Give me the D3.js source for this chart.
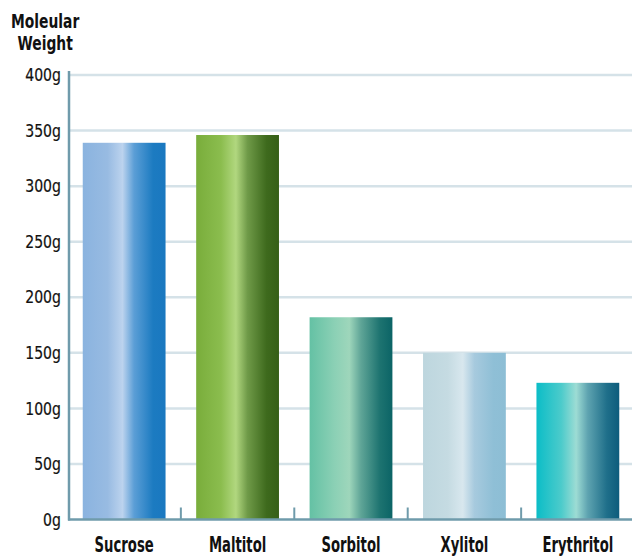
<!DOCTYPE html>
<html><head><meta charset="utf-8">
<script src="https://cdn.jsdelivr.net/npm/d3@7"></script>
<style>
body{margin:0;background:#fff;}
text{font-family:"Liberation Sans Narrow","DejaVu Sans Condensed","DejaVu Sans",sans-serif;}
</style></head>
<body><svg id="c" width="632" height="557"></svg>
<script>
const categories = ["Sucrose","Maltitol","Sorbitol","Xylitol","Erythritol"];
const values = [339, 346, 182, 150, 123];
const tickValues = [0,50,100,150,200,250,300,350,400];
const tickLabels = ["0g","50g","100g","150g","200g","250g","300g","350g","400g"];
const gradients = [
  ["#8ab3df","#98bbe2","#bcd3ee","#5b9ed6","#1c7bc1","#1a78c0"],
  ["#79ad3b","#8bbd4e","#b1d77f","#6f9a48","#3e6a1d","#365f17"],
  ["#64c1a4","#8bd0b5","#9ed6bb","#5fa597","#1d7370","#0b6466"],
  ["#bdd6de","#c5dbe2","#d8e7ee","#a7cade","#8fbfd6","#8dbed5"],
  ["#0bbdc7","#4ccbcb","#9ddcd4","#5ea3b0","#1f6f8a","#0e5c7c"]
];
const stops = [0, 0.3, 0.48, 0.62, 0.85, 1];

const svg = d3.select("#c");
const x0 = 68, yTop = 75, yBase = 519.5, step = 113.2;
const x = d3.scaleBand().domain(categories).range([x0, x0 + step*categories.length]).paddingInner(0.27).paddingOuter(0.13);
const y = d3.scaleLinear().domain([0,400]).range([yBase, yTop]);

const defs = svg.append("defs");
gradients.forEach((g,i)=>{
  const lg = defs.append("linearGradient").attr("id","g"+i).attr("x1","0").attr("x2","1").attr("y1","0").attr("y2","0");
  g.forEach((c,j)=>lg.append("stop").attr("offset",stops[j]).attr("stop-color",c));
});

// gridlines
svg.append("g").selectAll("line").data(tickValues.filter(d=>d>0)).join("line")
  .attr("x1",x0+2).attr("x2",632).attr("y1",d=>y(d)).attr("y2",d=>y(d))
  .attr("stroke","#d5e2e8").attr("stroke-width",2.5);

// y labels (condensed via horizontal scale)
svg.append("g").selectAll("text").data(tickValues).join("text")
  .attr("transform",d=>`translate(61,${y(d)}) scale(0.92,1)`)
  .attr("dy","0.36em").attr("text-anchor","end")
  .attr("font-size",17).attr("fill","#111").attr("stroke","#111").attr("stroke-width",0.2)
  .text((d,i)=>tickLabels[i]);

// bars
svg.append("g").selectAll("rect").data(values).join("rect")
  .attr("x",(d,i)=>x(categories[i])).attr("width",x.bandwidth())
  .attr("y",d=>y(d)).attr("height",d=>yBase-y(d))
  .attr("fill",(d,i)=>"url(#g"+i+")");

// baseline
svg.append("line").attr("x1",x0).attr("x2",632).attr("y1",yBase).attr("y2",yBase)
  .attr("stroke","#6f9bab").attr("stroke-width",2.5);
// y axis line
svg.append("line").attr("x1",69).attr("x2",69).attr("y1",71).attr("y2",yBase+1)
  .attr("stroke","#6f9bab").attr("stroke-width",2.5);

// band boundary ticks
const bounds = categories.slice(1).map(c=>x(c) - x.step()*x.paddingInner()/2);
svg.append("g").selectAll("line").data(bounds).join("line")
  .attr("x1",d=>d).attr("x2",d=>d).attr("y1",yBase-12).attr("y2",yBase)
  .attr("stroke","#6f9bab").attr("stroke-width",2);

// x labels
svg.append("g").selectAll("text").data(categories).join("text")
  .attr("transform",d=>`translate(${x(d)+x.bandwidth()/2},552) scale(0.7,1)`)
  .attr("text-anchor","middle")
  .attr("font-size",21).attr("font-weight","bold").attr("fill","#111").text(d=>d);

// axis title
const title = svg.append("g").attr("font-size",19.5).attr("font-weight","bold").attr("fill","#111");
title.append("text").attr("transform","translate(11,27.5) scale(0.79,1)").text("Moleular");
title.append("text").attr("transform","translate(17.5,49.5) scale(0.79,1)").text("Weight");
</script></body></html>
